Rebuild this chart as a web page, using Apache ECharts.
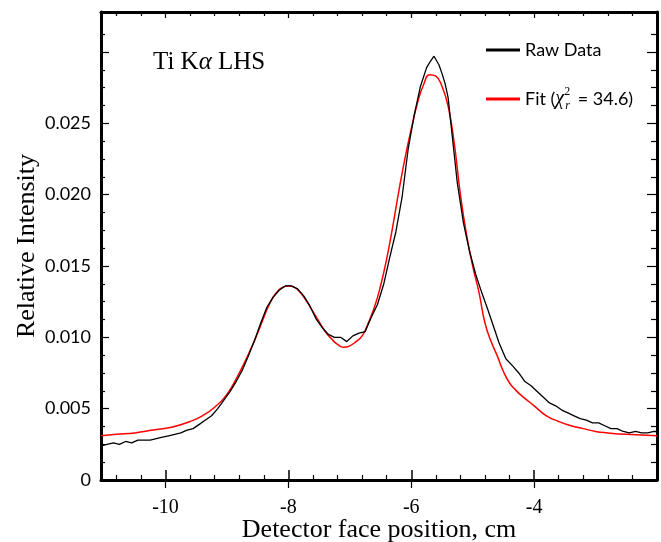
<!DOCTYPE html>
<html>
<head>
<meta charset="utf-8">
<script src="https://cdn.jsdelivr.net/npm/echarts@6/dist/echarts.min.js"></script>
<style>
  html, body { margin: 0; padding: 0; background: #fff; }
  #main { width: 661px; height: 542px; }
</style>
</head>
<body>
<div id="main"></div>
<script>
// raw detector profile
var rawX = [-11.05, -10.95, -10.85, -10.75, -10.65, -10.55, -10.45, -10.35, -10.25, -10.15,
    -10.05, -9.95, -9.85, -9.75, -9.65, -9.55, -9.45, -9.35, -9.25, -9.15,
    -9.05, -8.95, -8.85, -8.75, -8.65, -8.55, -8.45, -8.35, -8.25, -8.15,
    -8.05, -7.95, -7.85, -7.75, -7.65, -7.55, -7.45, -7.35, -7.25, -7.15,
    -7.05, -6.95, -6.85, -6.75, -6.65, -6.55, -6.45, -6.35, -6.25, -6.15,
    -6.05, -5.95, -5.85, -5.75, -5.68, -5.63, -5.55, -5.5, -5.45, -5.4,
    -5.33, -5.25, -5.15, -5.05, -4.95, -4.85, -4.75, -4.68, -4.57, -4.46,
    -4.35, -4.25, -4.15, -4.05, -3.95, -3.85, -3.75, -3.65, -3.55, -3.45,
    -3.35, -3.25, -3.15, -3.05, -2.95, -2.85, -2.75, -2.65, -2.55, -2.45,
    -2.35, -2.25, -2.15, -2.05, -2.0];
var rawY = [0.0024, 0.0025, 0.0026, 0.0025, 0.0027, 0.0026, 0.0028, 0.0028, 0.0028, 0.0029,
    0.0030, 0.0031, 0.0032, 0.0033, 0.0035, 0.0036, 0.0039, 0.0042, 0.0045, 0.0050,
    0.0056, 0.0062, 0.0069, 0.0077, 0.0087, 0.0098, 0.0110, 0.0121, 0.0128, 0.0133,
    0.0136, 0.0136, 0.0134, 0.0129, 0.0122, 0.0113, 0.0107, 0.0102, 0.0100, 0.0100,
    0.0097, 0.0101, 0.0103, 0.0104, 0.0114, 0.0123, 0.0137, 0.0156, 0.0174, 0.0198,
    0.0232, 0.0256, 0.0276, 0.0289, 0.0294, 0.0297, 0.0291, 0.0285, 0.0278, 0.0268,
    0.0240, 0.0208, 0.0180, 0.0160, 0.0144, 0.0131, 0.0119, 0.0110, 0.0096, 0.0085,
    0.0080, 0.0075, 0.0069, 0.0066, 0.0062, 0.0058, 0.0054, 0.0052, 0.0049, 0.0047,
    0.0045, 0.0043, 0.0042, 0.0040, 0.0040, 0.0038, 0.0036, 0.0036, 0.0034, 0.0033,
    0.0034, 0.0033, 0.0033, 0.0034, 0.0034];

// fitted curve
var fitX = [-11.05, -10.8, -10.5, -10.2, -9.9, -9.6, -9.4, -9.2, -9.0, -8.8,
    -8.6, -8.5, -8.4, -8.3, -8.2, -8.1, -8.0, -7.9, -7.8, -7.7,
    -7.6, -7.5, -7.4, -7.3, -7.2, -7.1, -7.0, -6.9, -6.8, -6.7,
    -6.6, -6.5, -6.4, -6.3, -6.2, -6.1, -6.0, -5.9, -5.8, -5.7,
    -5.6, -5.5, -5.4, -5.3, -5.2, -5.1, -5.0, -4.9, -4.8, -4.7,
    -4.6, -4.5, -4.4, -4.3, -4.2, -4.0, -3.8, -3.6, -3.4, -3.2,
    -3.0, -2.8, -2.5, -2.0];
var fitY = [0.0031, 0.0032, 0.0033, 0.0035, 0.0037, 0.0041, 0.0045, 0.0051, 0.0060, 0.0075,
    0.0093, 0.0103, 0.0114, 0.0124, 0.0131, 0.0135, 0.0136, 0.0135, 0.0131, 0.0125,
    0.0118, 0.0111, 0.0104, 0.0099, 0.0095, 0.0093, 0.0094, 0.0097, 0.0101, 0.0110,
    0.0121, 0.0136, 0.0155, 0.0178, 0.0203, 0.0226, 0.0246, 0.0264, 0.0277, 0.0284,
    0.0283, 0.0276, 0.0262, 0.0236, 0.0200, 0.0172, 0.0150, 0.0132, 0.0110, 0.0097,
    0.0087, 0.0076, 0.0068, 0.0063, 0.0059, 0.0052, 0.0045, 0.0041, 0.0038, 0.0036,
    0.0034, 0.0033, 0.0032, 0.0031];

// ticks
var xMajor = [-10, -8, -6, -4];
var xMinor = [-10.8, -10.4, -9.6, -9.2, -8.8, -8.4, -7.6, -7.2, -6.8, -6.4,
    -5.6, -5.2, -4.8, -4.4, -3.6, -3.2, -2.8, -2.4];
var yMajor = [0, 0.005, 0.010, 0.015, 0.020, 0.025, 0.030];
var yLabels = [0, 0.005, 0.010, 0.015, 0.020, 0.025];
var yMinor = [0.00125, 0.0025, 0.00375, 0.00625, 0.0075, 0.00875, 0.01125, 0.0125, 0.01375,
    0.01625, 0.0175, 0.01875, 0.02125, 0.0225, 0.02375, 0.02625, 0.0275, 0.02875, 0.03125];

var X_MIN = -11.05, X_MAX = -2.0, Y_MIN = 0, Y_MAX = 0.0328;
var SERIF = '"Liberation Serif", "DejaVu Serif", serif';
var SANS = 'Lato, "Open Sans", sans-serif';

function zip(xs, ys) {
    var out = [];
    for (var i = 0; i < xs.length; i++) out.push([xs[i], ys[i]]);
    return out;
}

// helper: an extra axis that only draws ticks
function tickAxis(kind, position, values, length, inside, showLine) {
    return {
        type: 'value',
        position: position,
        min: kind === 'x' ? X_MIN : Y_MIN,
        max: kind === 'x' ? X_MAX : Y_MAX,
        axisLine: { show: !!showLine, onZero: false, lineStyle: { color: '#000', width: 3 } },
        axisTick: { show: true, inside: inside, length: length, customValues: values,
            lineStyle: { color: '#000', width: 1.2 } },
        axisLabel: { show: false },
        splitLine: { show: false }
    };
}

var chart = echarts.init(document.getElementById('main'), null, { renderer: 'canvas' });

var mainX = {
    type: 'value',
    position: 'bottom',
    min: X_MIN,
    max: X_MAX,
    name: 'Detector face position, cm',
    nameLocation: 'middle',
    nameGap: 37,
    nameMoveOverlap: false,
    nameTextStyle: { fontFamily: SERIF, fontSize: 26, color: '#000' },
    axisLine: { onZero: false, lineStyle: { color: '#000', width: 3 } },
    axisTick: { inside: true, length: 10, customValues: xMajor, lineStyle: { color: '#000', width: 1.5 } },
    axisLabel: { customValues: xMajor, margin: 18, fontFamily: SERIF, fontSize: 20, color: '#000' },
    splitLine: { show: false }
};

var mainY = {
    type: 'value',
    position: 'left',
    min: Y_MIN,
    max: Y_MAX,
    name: 'Relative Intensity',
    nameLocation: 'middle',
    nameGap: 61,
    nameMoveOverlap: false,
    nameTextStyle: { fontFamily: SERIF, fontSize: 26, color: '#000' },
    axisLine: { onZero: false, lineStyle: { color: '#000', width: 3 } },
    axisTick: { inside: true, length: 8, customValues: yMajor, lineStyle: { color: '#000', width: 1.2 } },
    axisLabel: {
        customValues: yLabels, margin: 10, fontFamily: SANS, fontSize: 18, color: '#000',
        formatter: function (v) { return v === 0 ? '0' : v.toFixed(3); }
    },
    splitLine: { show: false }
};

var option = {
    backgroundColor: '#fff',
    animation: false,
    title: {
        text: '{n|Ti K}{i|α}{n| LHS}',
        left: 148,
        top: 45,
        textStyle: {
            fontWeight: 'normal',
            rich: {
                n: { fontFamily: SERIF, fontSize: 25, fontWeight: 'normal', color: '#000' },
                i: { fontFamily: SERIF, fontSize: 25, fontWeight: 'normal', fontStyle: 'italic', color: '#000' }
            }
        }
    },
    legend: [{
        data: [{ name: 'Raw Data', icon: 'rect' }],
        left: 481,
        top: 36,
        itemWidth: 34,
        itemHeight: 3,
        textStyle: { fontFamily: SANS, fontSize: 18, color: '#000' }
    }, {
        data: [{ name: 'Fit', icon: 'rect' }],
        left: 481,
        top: 81,
        itemWidth: 34,
        itemHeight: 3,
        formatter: function () {
            return '{t|Fit (}{g|χ}{p|2}{b|r}{t| = 34.6)}';
        },
        textStyle: {
            color: '#000',
            rich: {
                t: { fontFamily: SANS, fontSize: 18, lineHeight: 26, color: '#000' },
                g: { fontFamily: SERIF, fontSize: 20, fontStyle: 'italic', lineHeight: 26, color: '#000' },
                p: { fontFamily: SERIF, fontSize: 12, verticalAlign: 'top', width: 1, color: '#000' },
                b: { fontFamily: SERIF, fontSize: 12, fontStyle: 'italic', verticalAlign: 'bottom', width: 8, color: '#000' }
            }
        }
    }],
    grid: { left: 101, right: 4, top: 12, bottom: 62, containLabel: false, outerBoundsMode: 'none' },
    xAxis: [
        mainX,
        tickAxis('x', 'bottom', xMajor, 8, false, false),
        tickAxis('x', 'bottom', xMinor, 5, true, false),
        tickAxis('x', 'top', xMajor, 6, true, true),
        tickAxis('x', 'top', xMinor, 4, true, false)
    ],
    yAxis: [
        mainY,
        tickAxis('y', 'left', yMinor, 4, true, false),
        tickAxis('y', 'right', yMajor, 10, true, true),
        tickAxis('y', 'right', yMinor, 6, true, false)
    ],
    series: [{
        name: 'Raw Data',
        type: 'line',
        data: zip(rawX, rawY),
        showSymbol: false,
        symbol: 'none',
        color: '#000',
        lineStyle: { color: '#000', width: 1.3 },
        z: 3
    }, {
        name: 'Fit',
        type: 'line',
        data: zip(fitX, fitY),
        showSymbol: false,
        symbol: 'none',
        smooth: true,
        color: '#ff0000',
        lineStyle: { color: '#ff0000', width: 1.5 },
        z: 2
    }]
};

chart.setOption(option);
</script>
</body>
</html>
